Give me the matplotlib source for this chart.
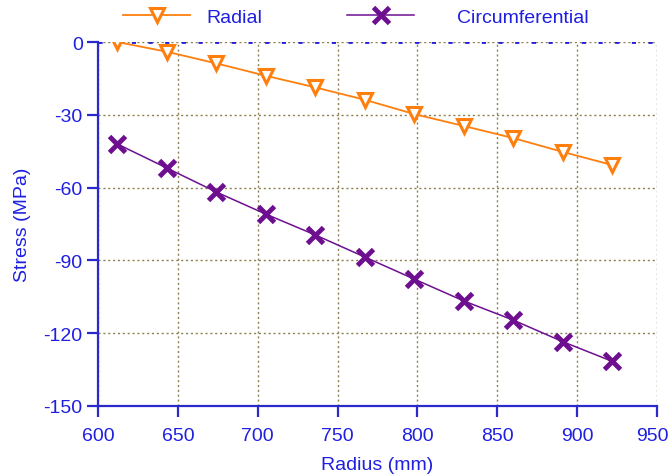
import matplotlib
matplotlib.use("Agg")
import matplotlib.pyplot as plt
import matplotlib.transforms as mtransforms

plt.rcParams['font.family'] = ['Liberation Sans', 'DejaVu Sans']
plt.rcParams['axes.unicode_minus'] = False

# data
radius = [612, 643, 674, 705, 736, 767, 798, 829, 860, 891, 922]
radial = [0, -4.0, -8.8, -13.9, -18.7, -23.8, -29.7, -34.6, -39.6, -45.3, -50.7]
circum = [-42.0, -51.9, -61.8, -70.9, -79.5, -88.6, -97.7, -106.7, -114.6, -123.5, -131.6]

x_ticks = [600, 650, 700, 750, 800, 850, 900, 950]
y_ticks = [0, -30, -60, -90, -120, -150]

BLUE = "#1f1fe0"
AXBLUE = "#2a2acc"
ORANGE = "#ff7f0e"
PURPLE = "#6d0f8f"
GRID = "#8c8050"
FS = 14

fig = plt.figure(figsize=(6.7, 4.77), dpi=100)
ax = fig.add_axes([98 / 670, 1 - 407 / 477, (657 - 98) / 670, (407 - 43) / 477])

l1, = ax.plot(radius, radial, color=ORANGE, lw=1.3, marker="v", ms=10,
              mfc="white", mec=ORANGE, mew=2.2, label="Radial", zorder=4)
l2, = ax.plot(radius, circum, color=PURPLE, lw=1.1, marker="x", ms=11,
              mec=PURPLE, mew=3.5, label="Circumferential", zorder=4)

ax.set_xlim(600, 950)
ax.set_ylim(-150, 0)
ax.set_xticks(x_ticks)
ax.set_yticks(y_ticks)

ax.grid(True, color=GRID, ls=(0, (1.5, 2)), lw=1)
ax.axhline(0, color=BLUE, ls=(0, (1.5, 4.5)), lw=2, zorder=3)

for s in ["top", "right"]:
    ax.spines[s].set_visible(False)
for s in ["left", "bottom"]:
    ax.spines[s].set_color(AXBLUE)
    ax.spines[s].set_linewidth(1.6)

ax.tick_params(axis="both", colors=AXBLUE, labelcolor=BLUE, length=8,
               width=1.6, labelsize=FS, direction="out")
ax.tick_params(axis="x", pad=7)
ax.tick_params(axis="y", pad=3)

# last x label sits on the right edge; nudge it inside
last = ax.get_xticklabels()[-1]
last.set_transform(last.get_transform() +
                   mtransforms.ScaledTranslation(-5 / 100, 0, fig.dpi_scale_trans))

ax.set_xlabel("Radius (mm)", color=BLUE, fontsize=FS, labelpad=9)
ax.set_ylabel("Stress (MPa)", color=BLUE, fontsize=FS)
ax.yaxis.set_label_coords((31 - 98) / 559, 0.5)

# two single-entry legends so each gap matches the reference
leg1 = fig.legend(handles=[l1], loc="center left", bbox_to_anchor=(123 / 670, 1 - 18 / 477),
                  frameon=False, fontsize=FS, handlelength=3.45, handletextpad=0.85,
                  borderpad=0, borderaxespad=0)
leg2 = fig.legend(handles=[l2], loc="center left", bbox_to_anchor=(347 / 670, 1 - 18 / 477),
                  frameon=False, fontsize=FS, handlelength=3.45, handletextpad=2.2,
                  borderpad=0, borderaxespad=0)
for leg in (leg1, leg2):
    for t in leg.get_texts():
        t.set_color(BLUE)

fig.savefig("out.png", dpi=100)
